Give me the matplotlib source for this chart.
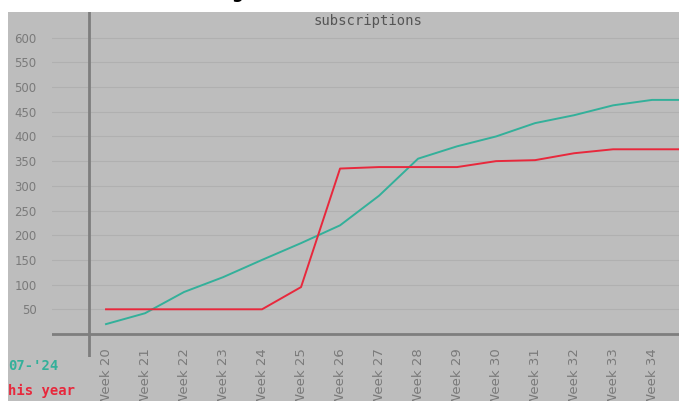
import matplotlib
matplotlib.use("Agg")
import matplotlib.pyplot as plt
from matplotlib.patches import Rectangle

# Weekly subscription counts
weeks = [20, 21, 22, 23, 24, 25, 26, 27, 28, 29, 30, 31, 32, 33, 34, 35]
week_labels = ["Week %d" % w for w in weeks]
avg_07_24 = [20, 42, 85, 115, 150, 184, 220, 280, 355, 380, 400, 427, 443, 463, 474, 474]
this_year = [50, 50, 50, 50, 50, 95, 335, 338, 338, 338, 350, 352, 366, 374, 374, 374]
y_ticks = [50, 100, 150, 200, 250, 300, 350, 400, 450, 500, 550, 600]

BG = "#bdbdbd"
TEAL = "#33b09a"
RED = "#e8283c"
W, H = 679, 401

fig = plt.figure(figsize=(W / 100, H / 100), dpi=100, facecolor="white")
bg = Rectangle((8 / W, 0), 1, (H - 12) / H, transform=fig.transFigure,
               facecolor=BG, edgecolor="none", zorder=-10)
fig.patches.append(bg)

ax = fig.add_axes([52 / W, (H - 357) / H, (W - 52) / W, (357 - 12) / H])
ax.set_facecolor(BG)
for s in ax.spines.values():
    s.set_visible(False)

for v in y_ticks:
    ax.axhline(v, color="#b0b0b0", linewidth=0.8, zorder=1)
ax.axhline(0, color="#7e7e7e", linewidth=2, zorder=2)
ax.axvline(19.56, color="#7e7e7e", linewidth=2, zorder=2)

ax.plot(weeks, avg_07_24, color=TEAL, linewidth=1.4, zorder=3)
ax.plot(weeks, this_year, color=RED, linewidth=1.4, zorder=3)

ax.set_yticks(y_ticks)
ax.set_yticklabels([str(v) for v in y_ticks], fontsize=8.5, color="#7a7a7a")
ax.tick_params(axis="y", length=0, pad=11)

ax.set_xticks(weeks)
ax.set_xticklabels(week_labels, rotation=90, fontsize=9.5, color="#7a7a7a", va="top")
ax.tick_params(axis="x", length=0, pad=-6.5)

# limits after the ticks, so the ticks do not widen the view
ax.set_xlim(18.615, 34.69)
ax.set_ylim(-46.6, 652)

fig.text(368 / W, 1 - 21 / H, "subscriptions", ha="center", va="center",
         family="DejaVu Sans Mono", fontsize=10, color="#555555")

fig.text(8 / W, 1 - 366 / H, "07-'24", family="DejaVu Sans Mono", fontweight="bold",
         fontsize=10, color=TEAL, va="center", ha="left")
fig.text(8 / W, 1 - 391 / H, "his year", family="DejaVu Sans Mono", fontweight="bold",
         fontsize=10, color=RED, va="center", ha="left")
fig.text(237 / W, 1 + 2 / H, "g", fontsize=12, fontweight="bold", color="black",
         ha="center", va="baseline")

fig.savefig("out.png", dpi=100)
